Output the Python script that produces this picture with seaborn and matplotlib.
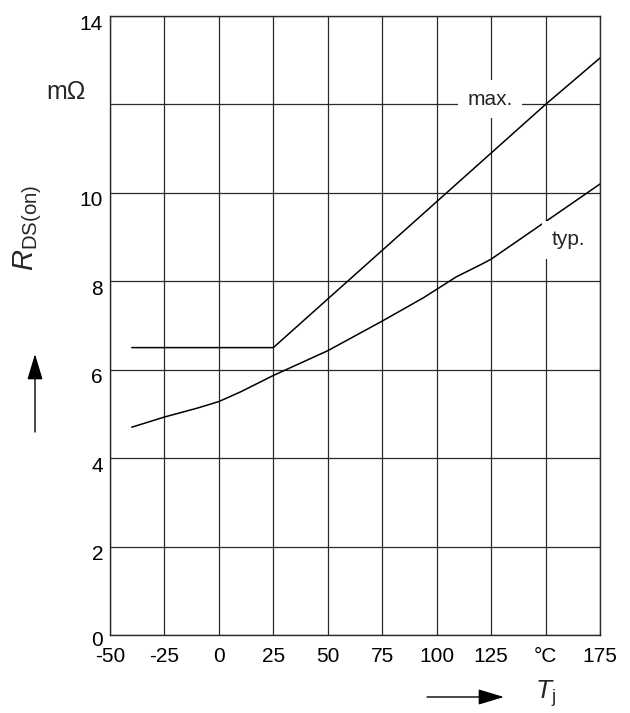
import numpy as np
import pandas as pd
import matplotlib
matplotlib.use("Agg")
import matplotlib.pyplot as plt
import matplotlib.transforms as mtransforms
import seaborn as sns

# ---- data ----
typ_t = [-40, -25, -10, 0, 10, 25, 50, 75, 94, 109, 120, 125, 150, 175]
typ_r = [4.70, 4.93, 5.13, 5.28, 5.50, 5.87, 6.43, 7.10, 7.63, 8.10, 8.37, 8.50, 9.35, 10.20]
max_t = [-40, 25, 150, 175]
max_r = [6.5, 6.5, 12.0, 13.05]
x_ticks = [-50, -25, 0, 25, 50, 75, 100, 125, 150, 175]
x_labels = ["-50", "-25", "0", "25", "50", "75", "100", "125", "°C", "175"]
y_ticks = [0, 2, 4, 6, 8, 10, 12, 14]
y_labels = ["0", "2", "4", "6", "8", "10", "", "14"]

sns.set_theme(style="white")
plt.rcParams["font.family"] = ["Liberation Sans", "DejaVu Sans"]
plt.rcParams["mathtext.fontset"] = "custom"
plt.rcParams["mathtext.rm"] = "Liberation Sans"
plt.rcParams["mathtext.it"] = "Liberation Sans:italic"
plt.rcParams["mathtext.bf"] = "Liberation Sans:bold"

W, H = 630, 713
fig = plt.figure(figsize=(W / 100, H / 100), dpi=100)
ax = fig.add_axes([110 / W, 78 / H, 490 / W, 619 / H])

df_typ = pd.DataFrame({"T": typ_t, "R": typ_r})
df_max = pd.DataFrame({"T": max_t, "R": max_r})
sns.lineplot(data=df_max, x="T", y="R", ax=ax, color="black", lw=1.1, zorder=3)
sns.lineplot(data=df_typ, x="T", y="R", ax=ax, color="black", lw=1.1, zorder=3)

ax.set_xlim(-50, 175)
ax.set_ylim(0, 14)
ax.set_xticks(x_ticks)
ax.set_xticklabels(x_labels, fontsize=15, color="black")
ax.set_yticks(y_ticks)
ax.set_yticklabels(y_labels, fontsize=15, color="black")
ax.tick_params(axis="both", length=0)
ax.tick_params(axis="x", pad=9)
ax.tick_params(axis="y", pad=5)
for lab in ax.get_yticklabels():
    dy = -3 if lab.get_text() == "0" else -6
    off = mtransforms.ScaledTranslation(0, dy / 100, fig.dpi_scale_trans)
    lab.set_transform(lab.get_transform() + off)
ax.set_xlabel("")
ax.set_ylabel("")
ax.grid(True, color="#2a2a2a", lw=0.9)
ax.set_axisbelow(True)
for s in ax.spines.values():
    s.set_color("#2a2a2a")
    s.set_linewidth(1.0)

# curve labels with white backgrounds
ax.text(124.5, 12.12, "max.", fontsize=15, ha="center", va="center", zorder=4,
        bbox=dict(boxstyle="square,pad=0.45", fc="white", ec="none"))
ax.text(160.3, 8.94, "typ.", fontsize=15, ha="center", va="center", zorder=4,
        bbox=dict(boxstyle="square,pad=0.45", fc="white", ec="none"))

# unit and axis labels
fig.text(66 / W, 1 - 92 / H, "mΩ", fontsize=18, ha="center", va="center")
fig.text(28 / W, 1 - 228 / H, r"$R_\mathrm{DS(on)}$", fontsize=21, rotation=90,
         ha="center", va="center")
fig.text(545 / W, 1 - 694 / H, r"$T_\mathrm{j}$", fontsize=19, ha="center", va="center")

# arrows
fig.add_artist(matplotlib.patches.FancyArrowPatch(
    (35 / W, 1 - 432 / H), (35 / W, 1 - 354 / H), transform=fig.transFigure,
    arrowstyle="-|>,head_length=1.6,head_width=0.48", mutation_scale=10,
    color="black", lw=1.0, shrinkA=0, shrinkB=0))
fig.add_artist(matplotlib.patches.FancyArrowPatch(
    (427 / W, 1 - 697 / H), (504 / W, 1 - 697 / H), transform=fig.transFigure,
    arrowstyle="-|>,head_length=1.6,head_width=0.48", mutation_scale=10,
    color="black", lw=1.0, shrinkA=0, shrinkB=0))

fig.savefig("out.png", dpi=100, facecolor="white")
